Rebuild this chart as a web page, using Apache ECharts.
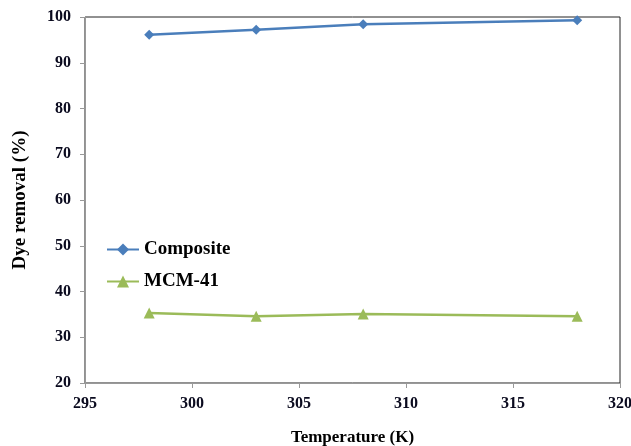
<!DOCTYPE html>
<html>
<head>
<meta charset="utf-8">
<script src="https://cdn.jsdelivr.net/npm/echarts@6/dist/echarts.min.js"></script>
<style>
html,body{margin:0;padding:0;background:#fff;}
#main{width:631px;height:446px;}
</style>
</head>
<body>
<div id="main"></div>
<script>
// data
var temps = [298, 303, 308, 318];
var composite = [96.1, 97.2, 98.4, 99.3];
var mcm41 = [35.3, 34.6, 35.1, 34.6];

var serif = '"Liberation Serif", "Times New Roman", serif';

function pairs(xs, ys){
    var out = [];
    xs.forEach(function(x, i){ out.push([x, ys[i]]); });
    return out;
}

var myChart = echarts.init(document.getElementById("main"));
var option = {
    animation: false,
    grid: {
        left: 85, right: 11, top: 17, bottom: 63,
        outerBoundsMode: 'none',
        containLabel: false,
        show: true,
        borderColor: '#222',
        borderWidth: 1
    },
    legend: {
        orient: 'vertical',
        left: 101,
        top: 235,
        itemGap: 13,
        itemWidth: 32,
        itemHeight: 15,
        textStyle: {fontFamily: serif, fontWeight: 'bold', fontSize: 19, color: '#000'},
        data: ['Composite', 'MCM-41']
    },
    xAxis: {
        type: 'value',
        min: 295, max: 320, interval: 5,
        name: 'Temperature (K)',
        nameLocation: 'middle',
        nameGap: 46,
        nameTextStyle: {fontFamily: serif, fontWeight: 'bold', fontSize: 17, color: '#000'},
        axisLine: {lineStyle: {color: '#999', width: 1}},
        axisTick: {show: true, length: 5, lineStyle: {color: '#999'}},
        axisLabel: {fontFamily: serif, fontWeight: 'bold', fontSize: 16, color: '#0a0a1e', margin: 13},
        splitLine: {show: false}
    },
    yAxis: {
        type: 'value',
        min: 20, max: 100, interval: 10,
        name: 'Dye removal (%)',
        nameLocation: 'middle',
        nameGap: 55,
        nameTextStyle: {fontFamily: serif, fontWeight: 'bold', fontSize: 19, color: '#000'},
        axisLine: {show: true, lineStyle: {color: '#999', width: 1}},
        axisTick: {show: true, length: 5, lineStyle: {color: '#999'}},
        axisLabel: {fontFamily: serif, fontWeight: 'bold', fontSize: 16, color: '#0a0a1e', margin: 14},
        splitLine: {show: false}
    },
    series: [
        {
            name: 'Composite',
            type: 'line',
            data: pairs(temps, composite),
            symbol: 'diamond',
            symbolSize: 10,
            lineStyle: {color: '#4a7ebb', width: 2.5},
            itemStyle: {color: '#4a7ebb'}
        },
        {
            name: 'MCM-41',
            type: 'line',
            data: pairs(temps, mcm41),
            symbol: 'triangle',
            symbolSize: 11,
            lineStyle: {color: '#9bbb59', width: 2.5},
            itemStyle: {color: '#9bbb59'}
        }
    ]
};
myChart.setOption(option);
</script>
</body>
</html>
